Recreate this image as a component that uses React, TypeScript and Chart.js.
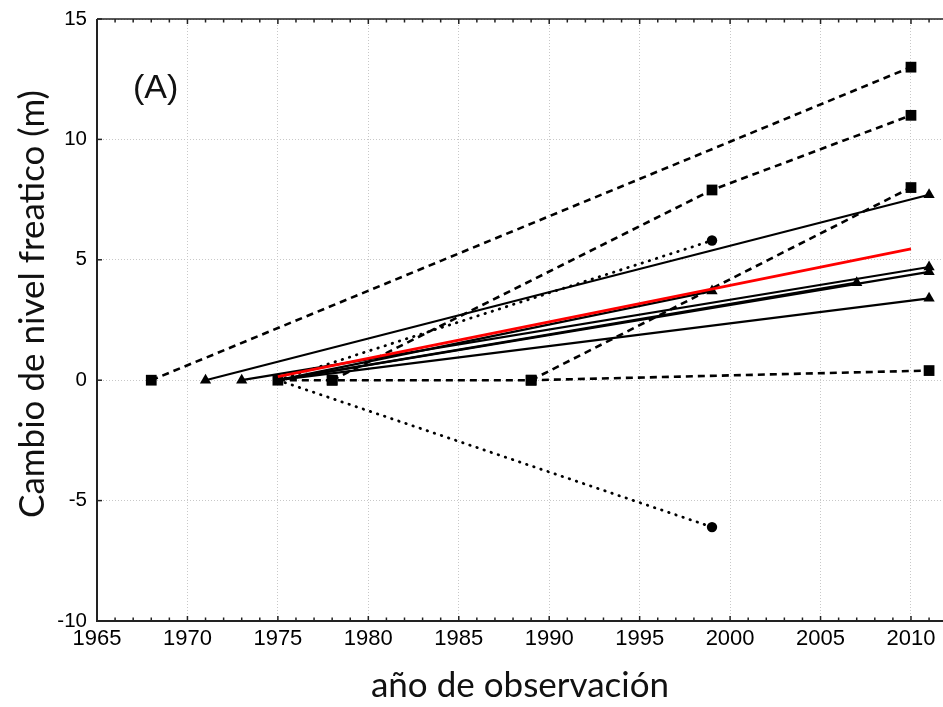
import React, { useEffect, useRef } from 'react';
import { Chart, registerables } from 'chart.js';

Chart.register(...registerables);

// ---- data ----
const xTickYears = [1965, 1970, 1975, 1980, 1985, 1990, 1995, 2000, 2005, 2010];
const yTickValues = [-10, -5, 0, 5, 10, 15];

// red line (mean trend)
const redYears = [1975, 2010];
const redVals = [0.15, 5.45];

// dashed series with square markers
const dashAYears = [1968, 2010];
const dashAVals = [0, 13];
const dashBYears = [1978, 1999, 2010];
const dashBVals = [0, 7.9, 11];
const dashCYears = [1989, 2010];
const dashCVals = [0, 8];
const dashDYears = [1975, 1978, 1989, 2011];
const dashDVals = [0, 0, 0, 0.4];

// dotted series with circle markers
const dotAYears = [1975, 1999];
const dotAVals = [0, 5.8];
const dotBYears = [1975, 1999];
const dotBVals = [0, -6.1];

// solid series with triangle markers
const solAYears = [1971, 2011];
const solAVals = [0, 7.7];
const solBYears = [1973, 2011];
const solBVals = [0, 4.7];
const solCYears = [1975, 2011];
const solCVals = [0, 4.5];
const solDYears = [1975, 2007];
const solDVals = [0, 4.05];
const solEYears = [1975, 2011];
const solEVals = [0, 3.4];
const solFYears = [1975, 1999];
const solFVals = [0, 3.7];

const panelLabel = '(A)';
const xTitle = 'año de observación';
const yTitle = 'Cambio de nivel freatico (m)';

const pts = (xs: number[], ys: number[]) => xs.map((x, i) => ({ x, y: ys[i] }));

const DASH = [7, 5];
const DOT = [0.5, 7];

function series(xs: number[], ys: number[], kind: string, marker: string, radii?: number[]) {
  const base: any = {
    data: pts(xs, ys),
    showLine: true,
    borderColor: '#000',
    backgroundColor: '#000',
    pointBackgroundColor: '#000',
    pointBorderColor: '#000',
    pointBorderWidth: 0,
    pointStyle: marker,
    borderWidth: 2.2,
    tension: 0,
  };
  if (kind === 'dash') {
    base.borderDash = DASH;
    base.borderWidth = 2.6;
  } else if (kind === 'dot') {
    base.borderDash = DOT;
    base.borderWidth = 2.8;
    base.borderCapStyle = 'round';
  }
  const r = marker === 'rect' ? 7.6 : marker === 'triangle' ? 6.5 : 5.2;
  base.pointRadius = radii ? radii.map((v) => v * r) : r;
  base.pointHoverRadius = base.pointRadius;
  return base;
}

const framePlugin = {
  id: 'frame',
  afterDraw(chart: any) {
    const { ctx, chartArea } = chart;
    const { left, right, top, bottom } = chartArea;
    const xs = chart.scales.x;
    const ys = chart.scales.y;
    ctx.save();
    ctx.strokeStyle = '#222';
    ctx.lineWidth = 1.5;
    for (let yr = Math.ceil(xs.min); yr <= xs.max; yr++) {
      const px = xs.getPixelForValue(yr);
      const len = yr % 5 === 0 ? 5 : 3.5;
      ctx.beginPath();
      ctx.moveTo(px, bottom);
      ctx.lineTo(px, bottom - len);
      ctx.moveTo(px, top);
      ctx.lineTo(px, top + len);
      ctx.stroke();
    }
    for (const v of yTickValues) {
      const py = ys.getPixelForValue(v);
      ctx.beginPath();
      ctx.moveTo(left, py);
      ctx.lineTo(left + 5, py);
      ctx.stroke();
    }
    ctx.lineWidth = 1.5;
    ctx.beginPath();
    ctx.moveTo(left, top);
    ctx.lineTo(right, top);
    ctx.stroke();
    ctx.lineWidth = 2;
    ctx.beginPath();
    ctx.moveTo(left, top);
    ctx.lineTo(left, bottom);
    ctx.lineTo(right, bottom);
    ctx.stroke();
    // panel label
    ctx.fillStyle = '#111';
    ctx.font = '34px "Liberation Sans", Arial, sans-serif';
    ctx.textBaseline = 'alphabetic';
    ctx.textAlign = 'left';
    ctx.fillText(panelLabel, left + 36, top + 79);
    // y axis title
    ctx.font = '35px Lato, "Open Sans", sans-serif';
    ctx.textAlign = 'center';
    ctx.textBaseline = 'alphabetic';
    ctx.translate(44, (top + bottom) / 2 - 16);
    ctx.rotate(-Math.PI / 2);
    ctx.fillText(yTitle, 0, 0);
    ctx.restore();
  },
};

export default function App() {
  const ref = useRef<HTMLCanvasElement | null>(null);
  useEffect(() => {
    document.body.style.margin = '0';
    const canvas = ref.current;
    if (!canvas) return;
    const chart = new Chart(canvas, {
      type: 'scatter',
      data: {
        datasets: [
          { ...series(redYears, redVals, 'solid', 'circle', [0, 0]), borderColor: '#ff0000', borderWidth: 2.8 },
          series(dashAYears, dashAVals, 'dash', 'rect'),
          series(dashBYears, dashBVals, 'dash', 'rect'),
          series(dashCYears, dashCVals, 'dash', 'rect'),
          series(dashDYears, dashDVals, 'dash', 'rect'),
          series(dotAYears, dotAVals, 'dot', 'circle', [0, 1]),
          series(dotBYears, dotBVals, 'dot', 'circle', [0, 1]),
          series(solAYears, solAVals, 'solid', 'triangle'),
          series(solBYears, solBVals, 'solid', 'triangle'),
          series(solCYears, solCVals, 'solid', 'triangle', [0, 1]),
          series(solDYears, solDVals, 'solid', 'triangle', [0, 1]),
          series(solEYears, solEVals, 'solid', 'triangle', [0, 1]),
          series(solFYears, solFVals, 'solid', 'triangle', [0, 1]),
        ],
      },
      options: {
        animation: false,
        responsive: true,
        maintainAspectRatio: false,
        layout: { autoPadding: false, padding: { top: 19, right: 0, left: 0, bottom: 0 } },
        plugins: { legend: { display: false }, tooltip: { enabled: false } },
        scales: {
          x: {
            type: 'linear',
            min: 1965,
            max: 2011.77,
            afterBuildTicks: (scale: any) => {
              scale.ticks = xTickYears.map((v) => ({ value: v }));
            },
            afterFit: (scale: any) => {
              scale.height = 86;
              scale.paddingLeft = 0;
              scale.paddingRight = 0;
            },
            ticks: {
              autoSkip: false,
              maxRotation: 0,
              padding: 5,
              color: '#000',
              font: { family: '"Liberation Sans", Arial, sans-serif', size: 22 },
              callback: (v: any) => String(v),
            },
            grid: { color: '#c8c8c8', lineWidth: 1, drawTicks: false },
            border: { display: false, dash: [1, 2] },
            title: {
              display: true,
              text: xTitle,
              color: '#111',
              font: { family: 'Lato, "Open Sans", sans-serif', size: 35 },
              padding: { top: 0, bottom: 0 },
            },
          },
          y: {
            type: 'linear',
            min: -10,
            max: 15,
            afterBuildTicks: (scale: any) => {
              scale.ticks = yTickValues.map((v) => ({ value: v }));
            },
            afterFit: (scale: any) => {
              scale.width = 97;
              scale.paddingTop = 0;
              scale.paddingBottom = 0;
            },
            ticks: {
              padding: 10,
              color: '#000',
              font: { family: '"Liberation Sans", Arial, sans-serif', size: 20.5 },
              callback: (v: any) => String(v),
            },
            grid: { color: '#c8c8c8', lineWidth: 1, drawTicks: false },
            border: { display: false, dash: [1, 2] },
            title: { display: false },
          },
        },
      },
      plugins: [framePlugin],
    } as any);
    return () => chart.destroy();
  }, []);
  return (
    <div style={{ position: 'fixed', left: 0, top: 0, width: 943, height: 707 }}>
      <canvas ref={ref} />
    </div>
  );
}
